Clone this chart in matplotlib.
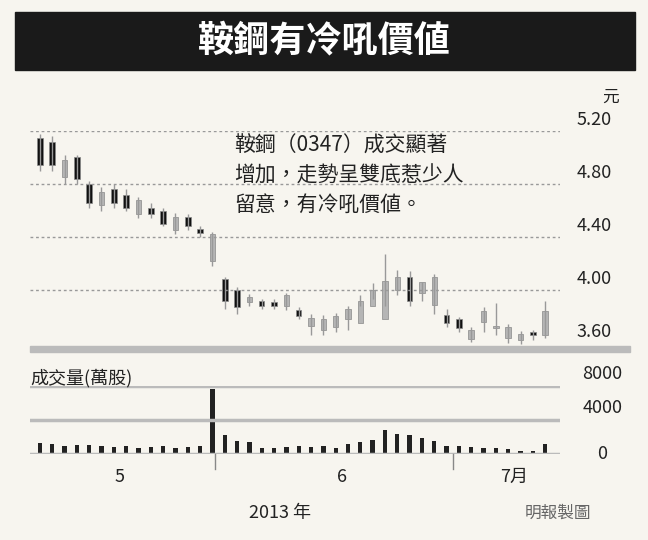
import matplotlib
matplotlib.use("Agg")
import matplotlib.pyplot as plt
import numpy as np

plt.rcParams['font.family'] = ['Noto Sans CJK TC', 'DejaVu Sans']

opens = [5.15,5.12,4.98,5.00,4.80,4.74,4.76,4.72,4.68,4.62,4.60,4.55,4.55,4.46,4.42,4.08,4.00,3.95,3.92,3.91,3.96,3.85,3.73,3.78,3.72,3.78,3.75,3.88,3.78,4.10,4.10,3.98,4.10,3.81,3.78,3.63,3.76,3.71,3.72,3.62,3.68,3.66]
closes = [4.94,4.94,4.85,4.84,4.66,4.64,4.66,4.62,4.57,4.57,4.50,4.45,4.48,4.43,4.22,3.92,3.87,3.91,3.88,3.88,3.88,3.80,3.79,3.70,3.80,3.86,3.92,4.00,4.07,4.00,3.92,4.06,3.89,3.75,3.71,3.70,3.84,3.73,3.64,3.67,3.66,3.84]
highs = [5.18,5.16,5.02,5.02,4.82,4.78,4.80,4.76,4.70,4.66,4.62,4.58,4.57,4.48,4.44,4.10,4.02,3.97,3.93,3.93,3.98,3.87,3.82,3.81,3.83,3.88,3.96,4.05,4.27,4.15,4.14,4.06,4.12,3.86,3.80,3.72,3.87,3.90,3.74,3.69,3.70,3.92]
lows = [4.90,4.90,4.80,4.80,4.62,4.60,4.62,4.60,4.54,4.54,4.48,4.42,4.45,4.40,4.18,3.86,3.82,3.88,3.86,3.86,3.85,3.78,3.66,3.66,3.68,3.70,3.88,3.93,3.88,3.96,3.88,3.92,3.82,3.72,3.68,3.61,3.68,3.66,3.60,3.59,3.62,3.64]
volumes = [1300,1200,900,1100,1100,1000,800,1000,700,800,900,700,800,1000,7600,2200,1500,1400,700,700,800,900,800,900,700,1200,1400,1600,2800,2300,2200,1900,1500,1000,900,800,700,700,600,400,400,1200]
price_ticks = [3.60, 4.00, 4.40, 4.80, 5.20]
vol_ticks = [0, 4000, 8000]
month_labels = ['5', '6', '7月']
month_pos = [6.5, 24.5, 38.5]

bg = '#f7f5ef'
fig = plt.figure(figsize=(6.48, 5.4), dpi=100, facecolor=bg)
W, H = 648, 540
def ax_at(x0, y0, x1, y1):
    return fig.add_axes([x0/W, 1-y1/H, (x1-x0)/W, (y1-y0)/H])

fig.patches.append(plt.Rectangle((15/W, 1-70/H), 620/W, 58/H, transform=fig.transFigure, color='#1a1a1a'))
fig.text(0.5, 1-41/H, '鞍鋼有冷吼價値', color='white', fontsize=26, fontweight='bold', ha='center', va='center')

y_top, y_bot = 131, 346
pmin = 5.20 - (y_bot-131)/53*0.4
ax = ax_at(30, y_top, 560, y_bot)
ax.set_facecolor(bg)
ax.set_ylim(pmin, 5.20)
n = len(opens)
ax.set_xlim(-0.8, n+0.2)
for t in price_ticks[1:]:
    ax.axhline(t, color='#999', ls=(0, (2, 2)), lw=1)
for i in range(n):
    dark = closes[i] < opens[i] and i % 3 != 2
    col = '#111' if dark else '#b5b5b5'
    ax.vlines(i, lows[i], highs[i], color='#999', lw=1)
    ax.bar(i, abs(closes[i]-opens[i]), bottom=min(opens[i], closes[i]), width=0.45, color=col, edgecolor='#888', lw=0.5)
for s in ax.spines.values():
    s.set_visible(False)
ax.set_xticks([]); ax.set_yticks([])
for t in price_ticks:
    ax.text(1.065, t+0.015, f'{t:.2f}', transform=ax.get_yaxis_transform(), fontsize=13, ha='center', va='bottom', color='#222')
ax.text(1.095, 5.42, '元', transform=ax.get_yaxis_transform(), fontsize=12, ha='center', color='#222')
ax.text(0.385, 5.17, '鞍鋼（0347）成交顯著\n增加，走勢呈雙底惹少人\n留意，有冷吼價値。', transform=ax.get_yaxis_transform(),
        fontsize=15, va='top', ha='left', linespacing=1.45, color='#222')

fig.patches.append(plt.Rectangle((30/W, 1-352/H), 600/W, 6/H, transform=fig.transFigure, color='#bbb'))

vax = ax_at(30, 386, 560, 454)
vax.set_facecolor(bg)
vax.set_ylim(0, 8000)
vax.set_xlim(-0.8, n+0.2)
for t in vol_ticks:
    vax.axhline(t, color='#bbb', lw=2.5)
vax.bar(range(n), volumes, width=0.35, color='#222')
for s in vax.spines.values():
    s.set_visible(False)
vax.set_xticks([]); vax.set_yticks([])
for t in vol_ticks:
    vax.text(1.08, t + (300 if t else 0), f'{t}', transform=vax.get_yaxis_transform(), fontsize=13, ha='center', va='bottom' if t else 'center', color='#222')
vax.text(0.0, 1.04, '成交量(萬股)', transform=vax.transAxes, fontsize=13, color='#222')
for xp in [14.2, 33.5]:
    vax.plot([xp, xp], [-1800, 0], color='#888', lw=1, clip_on=False)
for p, l in zip(month_pos, month_labels):
    vax.text(p, -1600, l, fontsize=13, ha='center', va='top', color='#222')
fig.text(280/W, 1-513/H, '2013 年', fontsize=13, ha='center', va='center', color='#222')
fig.text(558/W, 1-513/H, '明報製圖', fontsize=12, ha='center', va='center', color='#666')

fig.savefig('out.png', dpi=100, facecolor=bg)
